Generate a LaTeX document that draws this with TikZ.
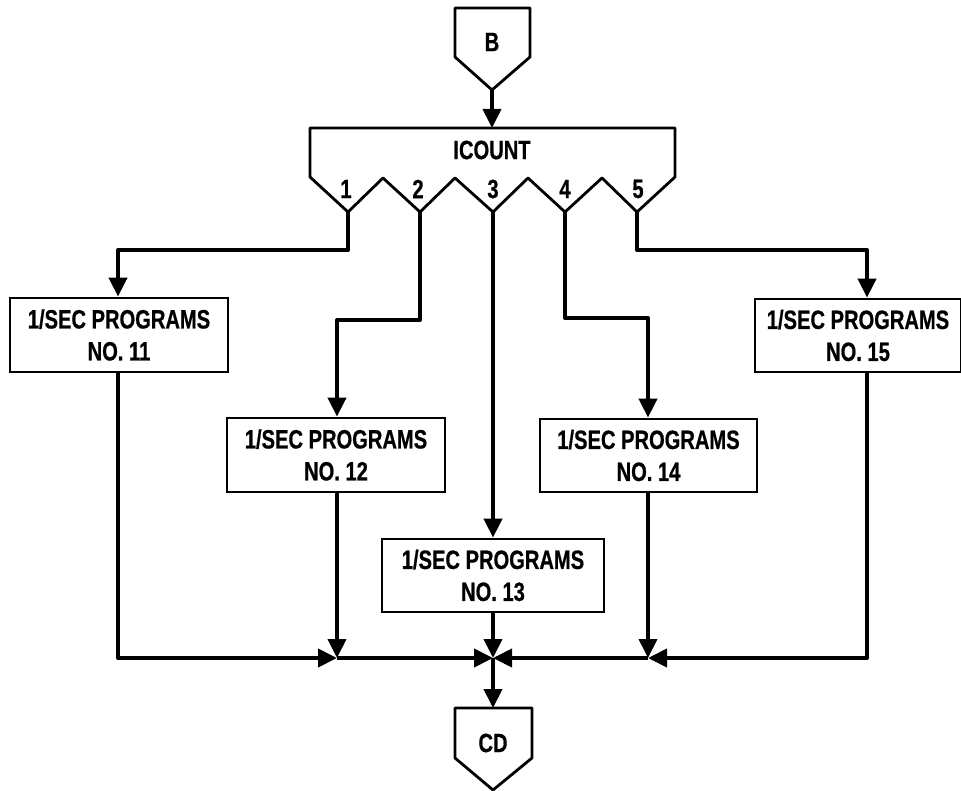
\documentclass[tikz,border=0pt]{standalone}
\usepackage{fontspec}
\setmainfont{Liberation Sans}[BoldFont={* Bold},FakeStretch=0.76,FakeBold=0.6]
\usetikzlibrary{arrows.meta}
\tikzset{
  lbl/.style={font=\bfseries\fontsize{26.5}{32}\selectfont, inner sep=0pt, align=center},
  prog/.style={lbl, draw, line width=2.8pt, minimum width=218pt, minimum height=74pt},
  shp/.style={draw, line width=2.8pt, line join=round},
  conn/.style={line width=4pt, line join=round},
  arr/.style={conn, -{Triangle[length=19pt,width=18pt]}},
}
\begin{document}
\begin{tikzpicture}[x=1pt,y=-1pt]
\useasboundingbox (0,0) rectangle (961,791);
% B connector
\draw[shp] (455,8) -- (530,8) -- (530,57) -- (492,90) -- (455,57) -- cycle;
\node[lbl] (b) at (492,42) {B};
\coordinate (btip) at (492,90);
% ICOUNT
\draw[shp] (310,128) -- (675,128) -- (675,177) -- (637,212) -- (602,178) -- (565,212)
  -- (528,178) -- (493,212) -- (455,178) -- (420,212) -- (383,178) -- (348,212)
  -- (310,177) -- cycle;
\node[lbl] (icount) at (492,150) {ICOUNT};
\coordinate (itop) at (492,128);
\coordinate (p1) at (348,212);
\coordinate (p2) at (420,212);
\coordinate (p3) at (493,212);
\coordinate (p4) at (565,212);
\coordinate (p5) at (637,212);
\node[lbl] (n1) at (346,189) {1};
\node[lbl] (n2) at (418,189) {2};
\node[lbl] (n3) at (493,189) {3};
\node[lbl] (n4) at (565,189) {4};
\node[lbl] (n5) at (638,189) {5};
% program boxes
\node[prog] (b11) at (119,335) {1/SEC PROGRAMS\\NO. 11};
\node[prog] (b12) at (336,455) {1/SEC PROGRAMS\\NO. 12};
\node[prog, minimum width=222pt, minimum height=73pt] (b13) at (493,575.5) {1/SEC PROGRAMS\\NO. 13};
\node[prog, minimum width=217pt, minimum height=73pt] (b14) at (648.5,455.5) {1/SEC PROGRAMS\\NO. 14};
\node[prog, minimum width=206pt, minimum height=73pt] (b15) at (858,335.5) {1/SEC PROGRAMS\\NO. 15};
% CD connector
\draw[shp] (455,708) -- (532,708) -- (532,758) -- (493,790) -- (455,758) -- cycle;
\node[lbl] (cd) at (493,743) {CD};
\coordinate (cdtop) at (493,708);
% routing coordinates
\coordinate (c1) at (118,250);
\coordinate (c2) at (337,320);
\coordinate (c4) at (648,318);
\coordinate (c5) at (867,250);
\coordinate (cL) at (118,658);
\coordinate (jL) at (337,658);
\coordinate (jC) at (493,658);
\coordinate (jR) at (648,658);
\coordinate (cR) at (867,658);
% connectors
\draw[arr] (btip) -- (itop);
\draw[arr] (p1) |- (c1) -- (c1 |- b11.north);
\draw[arr] (p2) |- (c2) -- (c2 |- b12.north);
\draw[arr] (p3) -- (p3 |- b13.north);
\draw[arr] (p4) |- (c4) -- (c4 |- b14.north);
\draw[arr] (p5) |- (c5) -- (c5 |- b15.north);
\draw[arr] (c1 |- b11.south) -- (cL) -- (jL);
\draw[arr] (jL) -- (jC);
\draw[arr] (c2 |- b12.south) -- (jL);
\draw[arr] (b13.south -| jC) -- (jC);
\draw[arr] (c4 |- b14.south) -- (jR);
\draw[arr] (c5 |- b15.south) -- (cR) -- (jR);
\draw[arr] (jR) -- (jC);
\draw[arr] (jC) -- (cdtop);
\end{tikzpicture}
\end{document}
